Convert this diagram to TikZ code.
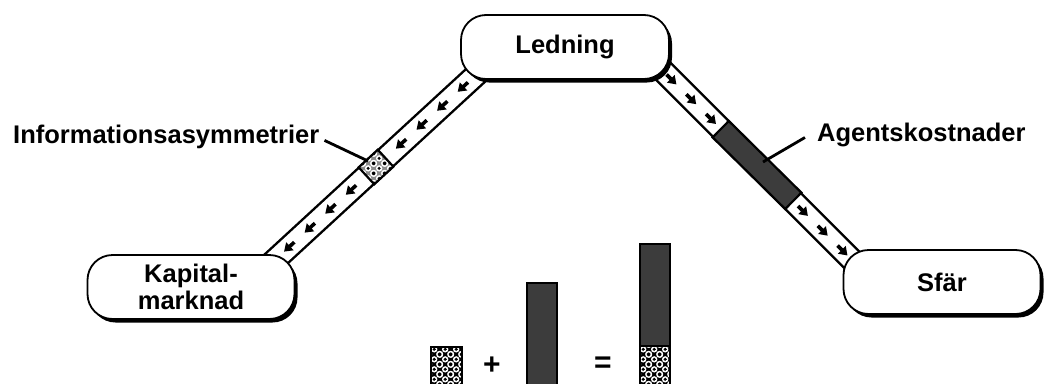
\documentclass[tikz,border=0pt]{standalone}
\usepackage{fontspec}
\setmainfont{Liberation Sans}
\usetikzlibrary{arrows.meta,patterns,calc,shadows,backgrounds}

\pgfdeclarepatternformonly{holes}{\pgfpointorigin}{\pgfqpoint{11pt}{10pt}}{\pgfqpoint{11pt}{10pt}}{
  \pgfpathcircle{\pgfqpoint{0pt}{0pt}}{3.4pt}
  \pgfpathcircle{\pgfqpoint{11pt}{0pt}}{3.4pt}
  \pgfpathcircle{\pgfqpoint{0pt}{10pt}}{3.4pt}
  \pgfpathcircle{\pgfqpoint{11pt}{10pt}}{3.4pt}
  \pgfpathcircle{\pgfqpoint{5.5pt}{5pt}}{3.4pt}
  \pgfusepath{fill}}
\pgfdeclarepatternformonly{pdots}{\pgfpointorigin}{\pgfqpoint{11pt}{10pt}}{\pgfqpoint{11pt}{10pt}}{
  \pgfpathcircle{\pgfqpoint{0pt}{0pt}}{1.8pt}
  \pgfpathcircle{\pgfqpoint{11pt}{0pt}}{1.8pt}
  \pgfpathcircle{\pgfqpoint{0pt}{10pt}}{1.8pt}
  \pgfpathcircle{\pgfqpoint{11pt}{10pt}}{1.8pt}
  \pgfpathcircle{\pgfqpoint{5.5pt}{5pt}}{1.8pt}
  \pgfusepath{fill}}

\definecolor{darkbar}{HTML}{3C3C3C}

\tikzset{
  pill/.style={rectangle, rounded corners=25pt, draw=black, line width=1.8pt, fill=white,
    minimum height=64pt, inner sep=0pt, align=center,
    font=\bfseries\fontsize{25.5}{27}\selectfont,
    drop shadow={shadow xshift=3pt, shadow yshift=-3.5pt, fill=black, opacity=1}},
  lbl/.style={font=\bfseries\fontsize{25.5}{27}\selectfont, inner sep=0pt},
  bandouter/.style={line width=24.5pt, draw=black},
  bandinner/.style={line width=19.6pt, draw=white},
  flow/.style={line width=3.6pt, -{Triangle[length=8pt,width=10.5pt]}},
  dotfill/.style={preaction={fill=black}, preaction={pattern=holes, pattern color=white},
    pattern=pdots, pattern color=black},
  lightdotfill/.style={preaction={fill=black!45}, preaction={pattern=holes, pattern color=white},
    pattern=pdots, pattern color=black},
  dotseg/.style={rectangle, draw=black, line width=2.2pt, minimum width=26pt, minimum height=23pt,
    inner sep=0pt, lightdotfill},
  darkseg/.style={rectangle, draw=black, line width=2.2pt, minimum width=102pt, minimum height=23pt,
    inner sep=0pt, fill=darkbar},
  leader/.style={line width=2.8pt},
  bar/.style={draw=black, line width=2pt},
}

\begin{document}
\begin{tikzpicture}[x=1pt,y=-1pt]
\useasboundingbox (0,0) rectangle (1044,383);
\clip (0,0) rectangle (1044,383);

% main nodes
\node[pill, minimum width=208pt] (led) at (565,47) {Ledning};
\node[pill, minimum width=207pt] (kap) at (191,287) {Kapital-\\marknad};
\node[pill, minimum width=197pt] (sfr) at (942,282) {Sfär};

% band end points
\coordinate (bL1) at (482.7,68.8);
\coordinate (bL2) at (269.3,265.2);
\coordinate (bR1) at (654.5,62.5);
\coordinate (bR2) at (859.5,267.5);

\begin{pgfonlayer}{background}
  \draw[bandouter] (bL1) -- (bL2);
  \draw[bandinner] (bL1) -- (bL2);
  \draw[bandouter] (bR1) -- (bR2);
  \draw[bandinner] (bR1) -- (bR2);
  \foreach \t in {-118,-90,-62,-34,34,62,90,118}
    \draw[flow] ($(bL1)!{(145+\t-7)/290}!(bL2)$) -- ($(bL1)!{(145+\t+7)/290}!(bL2)$);
  \foreach \t in {-121,-93,-65,65,93,121}
    \draw[flow] ($(bR1)!{(145+\t-7)/290}!(bR2)$) -- ($(bR1)!{(145+\t+7)/290}!(bR2)$);
  \node[dotseg, rotate=42.6] (patL) at ($(bL1)!0.5!(bL2)$) {};
  \node[darkseg, rotate=-44.6] (patR) at ($(bR1)!0.5!(bR2)$) {};
\end{pgfonlayer}

% labels
\node[lbl, anchor=base west] (info) at (13,143) {Informationsasymmetrier};
\node[lbl, anchor=base west] (agent) at (817,141) {Agentskostnader};
\coordinate (infoEnd) at (368,161);
\coordinate (agentEnd) at (763,162);
\draw[leader] ($(info.east)+(5,4)$) -- (infoEnd);
\draw[leader] ($(agent.west)+(-12,3)$) -- (agentEnd);

% bottom equation
\draw[bar, dotfill] (431,386) -- (431,347) -- (462,347) -- (462,386);
\node[lbl, font=\bfseries\fontsize{30}{30}\selectfont] (plus) at (492,366) {+};
\draw[bar, fill=darkbar] (527,386) -- (527,283) -- (557,283) -- (557,386);
\node[lbl, font=\bfseries\fontsize{30}{30}\selectfont] (eq) at (603,365) {=};
\draw[bar, fill=darkbar] (640,346) -- (640,244) -- (670,244) -- (670,346) -- cycle;
\draw[bar, dotfill] (640,386) -- (640,346) -- (670,346) -- (670,386);
\end{tikzpicture}
\end{document}
